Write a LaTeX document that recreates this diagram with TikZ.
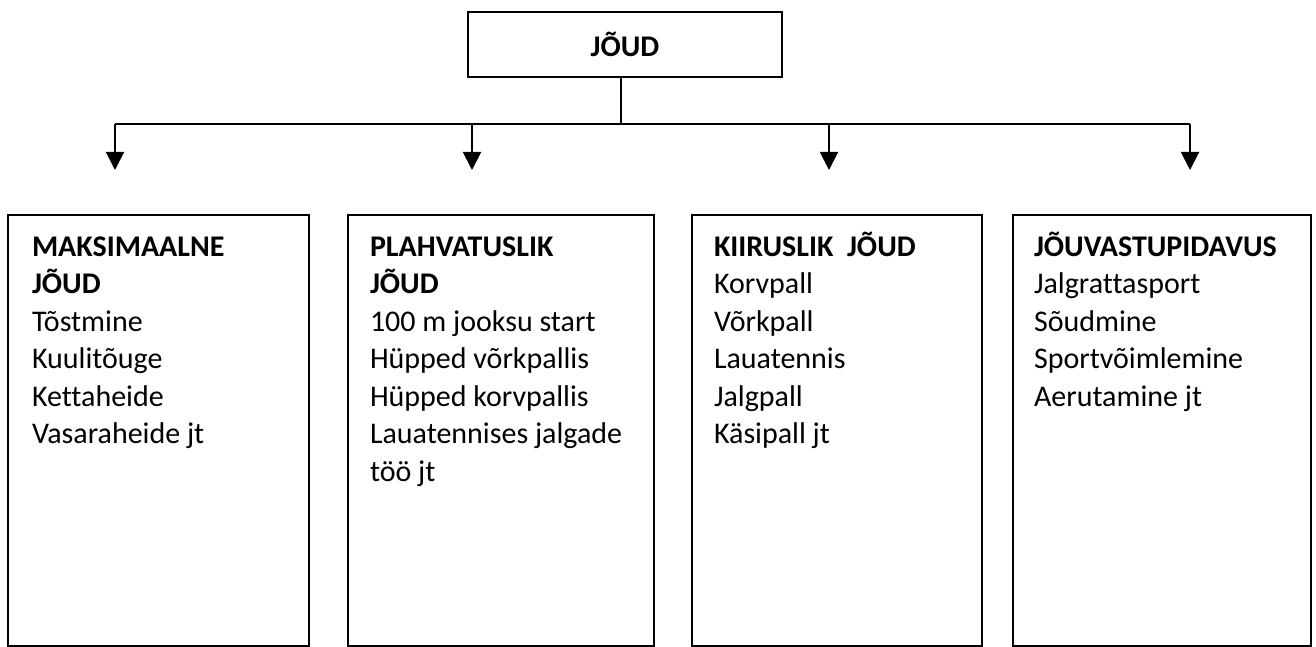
\documentclass[tikz,border=0pt]{standalone}
\usepackage{fontspec}
\setmainfont[Ligatures=NoCommon]{Carlito}
\usetikzlibrary{arrows.meta}
\begin{document}
\begin{tikzpicture}[x=1pt,y=-1pt,line width=2pt,
  catbox/.style={draw,rectangle,inner sep=0pt,minimum height=431pt},
  topbox/.style={draw,rectangle,inner sep=0pt,minimum width=314pt,minimum height=65pt,font=\fontsize{30}{37.5}\selectfont\bfseries},
  txt/.style={anchor=north west,inner sep=0pt,align=left,font=\fontsize{30}{37.5}\selectfont},
  arr/.style={-{Triangle[width=18pt,length=18pt]}}]
\useasboundingbox (0,0) rectangle (1316,647);
% top box
\node[topbox] (top) at (625,44.5) {JÕUD};
% junction coordinates
\coordinate (hub) at (621,124);
\coordinate (j1) at (115,124);
\coordinate (j2) at (472,124);
\coordinate (j3) at (829,124);
\coordinate (j4) at (1190,124);
\coordinate (e1) at (115,170);
\coordinate (e2) at (472,170);
\coordinate (e3) at (829,170);
\coordinate (e4) at (1190,170);
% category boxes
\node[catbox,minimum width=301pt] (b1) at (158.5,430.5) {};
\node[catbox,minimum width=306pt] (b2) at (501,430.5) {};
\node[catbox,minimum width=290pt] (b3) at (837,430.5) {};
\node[catbox,minimum width=298pt] (b4) at (1162,430.5) {};
% connectors
\draw (top.south -| hub) -- (hub);
\draw (j1) -- (j4);
\draw[arr] (j1) -- (e1);
\draw[arr] (j2) -- (e2);
\draw[arr] (j3) -- (e3);
\draw[arr] (j4) -- (e4);
% texts
\node[txt] (t1) at (31,228.75) {\strut\textbf{MAKSIMAALNE}\\\textbf{JÕUD}\\Tõstmine\\Kuulitõuge\\Kettaheide\\Vasaraheide jt};
\node[txt] (t2) at (369,228.75) {\strut\textbf{PLAHVATUSLIK}\\\textbf{JÕUD}\\100 m jooksu start\\Hüpped võrkpallis\\Hüpped korvpallis\\Lauatennises jalgade\\töö jt};
\node[txt] (t3) at (713,228.75) {\strut\textbf{KIIRUSLIK\ \ JÕUD}\\Korvpall\\Võrkpall\\Lauatennis\\Jalgpall\\Käsipall jt};
\node[txt] (t4) at (1033,228.75) {\strut\textbf{JÕUVASTUPIDAVUS}\\Jalgrattasport\\Sõudmine\\Sportvõimlemine\\Aerutamine jt};
\end{tikzpicture}
\end{document}
